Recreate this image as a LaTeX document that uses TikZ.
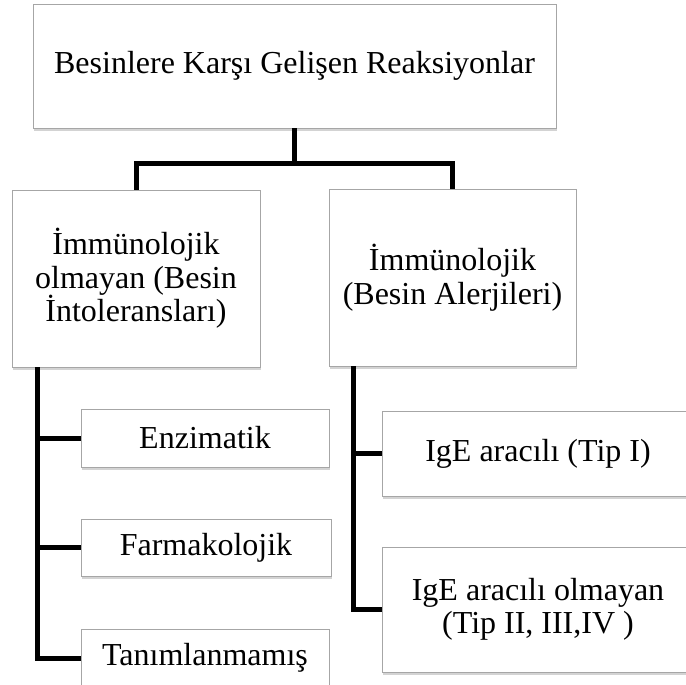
\documentclass[tikz,border=0pt]{standalone}
\usepackage{fontspec}
\setmainfont{Liberation Serif}
\usepackage{tikz}
\usetikzlibrary{shadows}

\begin{document}
\begin{tikzpicture}[x=1pt,y=-1pt]
            \tikzstyle{every node}+=[inner sep=0pt, font=\fontsize{32}{33.5}\selectfont]
            \tikzstyle{box}=[draw=gray!70, line width=0.8pt, fill=white, align=center,
                drop shadow={shadow xshift=1pt, shadow yshift=-3pt, opacity=0.35, fill=gray}]
            \tikzstyle{link}=[black, line width=5pt]
            \useasboundingbox (0,0) rectangle (686,685);
            \clip (0,0) rectangle (686,685);
            \node [box, minimum width=523, minimum height=124] (reac) at (294.5,66) {Besinlere Karşı Gelişen Reaksiyonlar};
            \node [box, minimum width=248, minimum height=177] (nonimm) at (136,278.5) {İmmünolojik\\olmayan (Besin\\İntoleransları)};
            \node [box, minimum width=247, minimum height=177] (imm) at (452.5,277.5) {İmmünolojik\\(Besin Alerjileri)};
            \node [box, minimum width=248, minimum height=58] (enz) at (205,438) {Enzimatik};
            \node [box, minimum width=250, minimum height=57] (farm) at (206,547.5) {Farmakolojik};
            \node [box, minimum width=248, minimum height=58] (tanim) at (205,658) {Tanımlanmamış};
            \node [box, minimum width=312, minimum height=85] (ige) at (538,453.5) {IgE aracılı (Tip I)};
            \node [box, minimum width=312, minimum height=125] (nonige) at (538,609.5) {IgE aracılı olmayan\\(Tip II, III,IV )};
            \coordinate (split) at ([yshift=-35.5]reac.south);
            \coordinate (ltrunk) at ([xshift=25.5]nonimm.south west);
            \coordinate (rtrunk) at ([xshift=24.5]imm.south west);
            \draw [link] (reac.south) -- (split) -| (nonimm.north);
            \draw [link] (split) -| (imm.north);
            \draw [link] (ltrunk) |- (enz.west);
            \draw [link] (ltrunk) |- (farm.west);
            \draw [link] (ltrunk) |- (tanim.west);
            \draw [link] (rtrunk) |- (ige.west);
            \draw [link] (rtrunk) |- (nonige.west);
            \end{tikzpicture}
\end{document}
